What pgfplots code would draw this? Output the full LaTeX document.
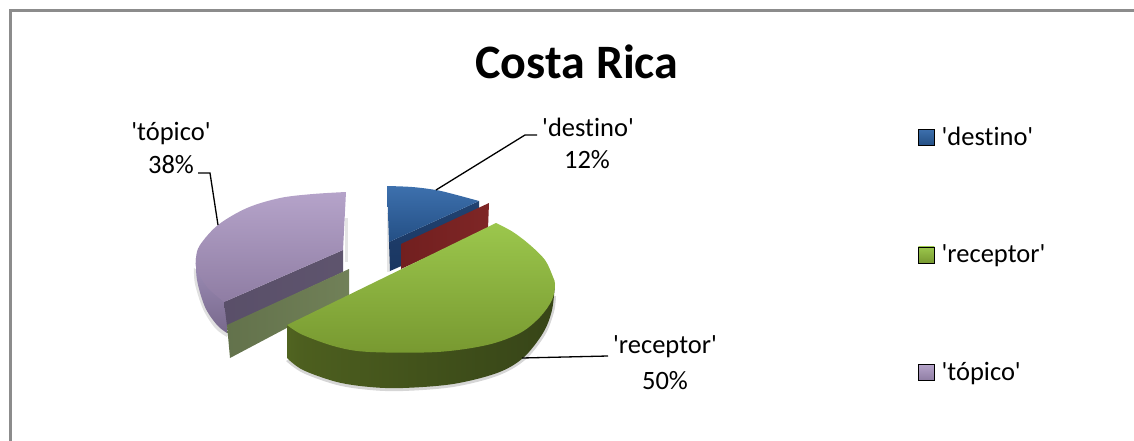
\documentclass[border=0pt]{standalone}
\usepackage{fontspec}
\setmainfont{Carlito}[Ligatures=NoCommon]
\usepackage{pgfplots}
\pgfplotsset{compat=1.18}
\newcommand{\q}{\textquotesingle}
\definecolor{framegray}{HTML}{8C8C8C}
\definecolor{gw0}{rgb}{0.44,0.56,0.19}
\definecolor{gw1}{rgb}{0.30,0.37,0.12}
\definecolor{gw2}{rgb}{0.24,0.30,0.10}
\definecolor{gw3}{rgb}{0.20,0.25,0.09}
\definecolor{gw4}{rgb}{0.27,0.33,0.12}
\definecolor{oc0}{rgb}{0.36,0.42,0.27}
\definecolor{oc1}{rgb}{0.47,0.53,0.37}
\definecolor{rc0}{rgb}{0.42,0.11,0.11}
\definecolor{rc1}{rgb}{0.52,0.16,0.16}
\definecolor{blueA}{rgb}{0.24,0.44,0.68}
\definecolor{blueB}{rgb}{0.14,0.31,0.52}
\definecolor{greenA}{rgb}{0.61,0.78,0.30}
\definecolor{greenB}{rgb}{0.47,0.60,0.19}
\definecolor{purpA}{rgb}{0.71,0.64,0.79}
\definecolor{purpB}{rgb}{0.56,0.49,0.64}
% horizontal shadings for the curved outer wall and the cut faces
\pgfdeclarehorizontalshading{greenwall}{100bp}{
  color(0bp)=(gw0); color(28bp)=(gw1); color(60bp)=(gw2); color(85bp)=(gw3); color(100bp)=(gw4)}
\pgfdeclarehorizontalshading{olivecut}{100bp}{color(0bp)=(oc0); color(100bp)=(oc1)}
\pgfdeclarehorizontalshading{redcut}{100bp}{color(0bp)=(rc0); color(100bp)=(rc1)}
\begin{document}
\begin{tikzpicture}
\begin{axis}[
  scale only axis, width=1134pt, height=441pt,
  xmin=0, xmax=1134, ymin=0, ymax=441, y dir=reverse,
  axis lines=none, clip=true,
  legend style={at={(axis cs:918,125)}, anchor=north west, draw=none, fill=none,
    font=\fontsize{26.5}{31}\selectfont, row sep=94pt, inner sep=0pt,
    legend cell align=left, nodes={inner sep=2pt}},
]
% keeps the whole canvas inside the page
\addplot[forget plot, draw=none] coordinates {(0,0) (1134,441)};
% chart frame: left and top edges only
\addplot[forget plot, draw=framegray, line width=2.4pt] coordinates {(10.5,441) (10.5,10.5) (1134,10.5)};

% soft shadows under the slices
\addplot[forget plot, fill=black, fill opacity=.12, draw=none, smooth, tension=.55] coordinates {
  (194,268) (195,284) (203,309) (215,328) (227,337)} -- (axis cs:240,300) -- cycle;
\addplot[forget plot, fill=black, fill opacity=.10, draw=none] coordinates {(345,218) (348,218) (348,262) (345,262)} -- cycle;
\addplot[forget plot, fill=black, fill opacity=.10, draw=none] coordinates {(387,213) (390,213) (390,272) (387,272)} -- cycle;
\addplot[forget plot, fill=black, fill opacity=.16, draw=none, smooth, tension=.55] coordinates {
  (286,361) (303,373) (337,385) (370,390) (403,391) (453,387) (497,376) (525,360) (545,335) (554,312) (556,296)} -- (axis cs:400,300) -- cycle;

% tópico slice: outer wall, cut face, top surface
\addplot[forget plot, draw=none, top color={rgb,1:red,.62;green,.56;blue,.72}, bottom color={rgb,1:red,.47;green,.41;blue,.55}, smooth, tension=.55] coordinates {
  (196,258) (197,280) (205,307) (217,325) (227,333)} -- (axis cs:227,300) -- cycle;
\addplot[forget plot, draw=none, left color={rgb,1:red,.35;green,.31;blue,.41}, right color={rgb,1:red,.37;green,.33;blue,.43}] coordinates {
  (224,302) (343,250) (343,272) (227,326)} -- cycle;
\addplot[forget plot, draw=none, top color=purpA, bottom color=purpB, smooth, tension=.55] coordinates {
  (346,192) (313,194) (280,198) (247,208) (218,225) (200,245) (196,258) (197,270) (207,287) (224,302)} -- (axis cs:343,250) -- cycle;
% olive cut face of the receptor slice
\addplot[forget plot, draw=none, shading=olivecut] coordinates {
  (227,325) (349,269) (349,295) (230,358)} -- cycle;

% destino slice
\addplot[forget plot, draw=none, top color={rgb,1:red,.13;green,.26;blue,.44}, bottom color={rgb,1:red,.10;green,.21;blue,.38}] coordinates {
  (389,242) (479,201) (479,232) (390,271)} -- cycle;
\addplot[forget plot, draw=none, top color=blueA, bottom color=blueB, smooth, tension=.55] coordinates {
  (387,186) (412,187) (436,190) (453,194) (479,201)} -- (axis cs:389,242) -- cycle;
% red cut face beside the destino slice
\addplot[forget plot, draw=none, shading=redcut] coordinates {
  (401,244) (489,203) (488,229) (401,269)} -- cycle;

% receptor slice: curved wall, then top surface
\addplot[forget plot, draw=none, shading=greenwall, smooth, tension=.55] coordinates {
  (287,358) (303,370) (337,382) (370,387) (403,388) (453,384) (497,373) (523,358) (543,333) (552,310) (555,283)} -- (axis cs:400,300) -- (axis cs:287,325) -- cycle;
\addplot[forget plot, draw=none, top color=greenA, bottom color=greenB, smooth, tension=.55] coordinates {
  (496,223) (513,232) (530,245) (545,260) (553,277) (555,285) (552,300) (540,317) (520,333) (487,345) (437,352) (370,352) (337,347) (303,335) (287,325)} -- cycle;

% leader lines
\addplot[forget plot, black, line width=1.3pt] coordinates {(436,190) (525,135) (537,135)};
\addplot[forget plot, black, line width=1.3pt] coordinates {(522,358) (608,356)};
\addplot[forget plot, black, line width=1.3pt] coordinates {(218,225) (210,173) (198,173)};

% title and data labels
\node[font=\fontsize{48}{52}\bfseries\selectfont] at (axis cs:577,62) {Costa Rica};
\node[font=\fontsize{26.5}{31}\selectfont] at (axis cs:588,127) {\q destino\q};
\node[font=\fontsize{26.5}{31}\selectfont] at (axis cs:587,160) {12\%};
\node[font=\fontsize{26.5}{31}\selectfont] at (axis cs:665,347) {\q receptor\q};
\node[font=\fontsize{26.5}{31}\selectfont] at (axis cs:665,381) {50\%};
\node[font=\fontsize{26.5}{31}\selectfont] at (axis cs:171,134) {\q tópico\q};
\node[font=\fontsize{26.5}{31}\selectfont] at (axis cs:171,165) {38\%};

% legend
\addlegendimage{legend image code/.code={\path[top color=blueA, bottom color=blueB] (0pt,-8pt) rectangle (16pt,8pt);}}
\addlegendentry{\hspace{5pt}\q destino\q}
\addlegendimage{legend image code/.code={\path[top color=greenA, bottom color=greenB] (0pt,-8pt) rectangle (16pt,8pt);}}
\addlegendentry{\hspace{5pt}\q receptor\q}
\addlegendimage{legend image code/.code={\path[top color=purpA, bottom color=purpB] (0pt,-8pt) rectangle (16pt,8pt);}}
\addlegendentry{\hspace{5pt}\q tópico\q}
\end{axis}
\end{tikzpicture}
\end{document}
